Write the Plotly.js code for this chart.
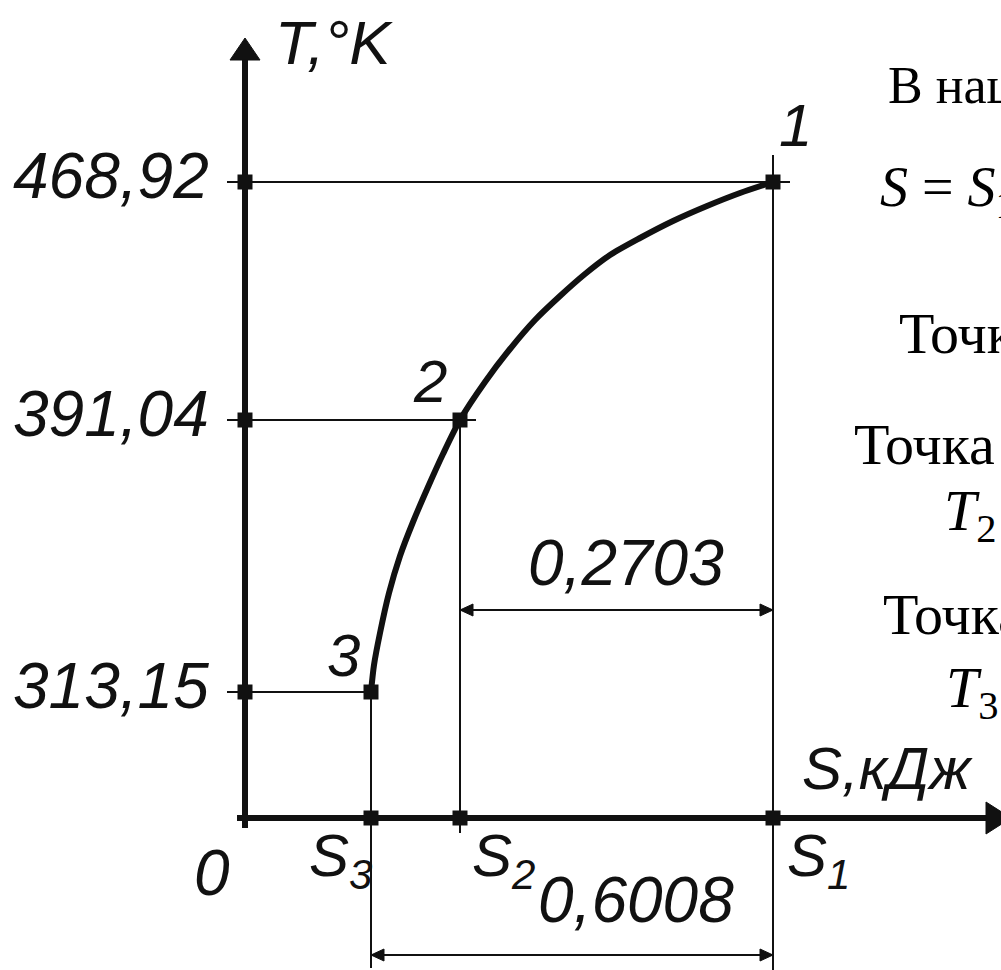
<!DOCTYPE html>
<html>
<head>
<meta charset="utf-8">
<script src="https://cdn.plot.ly/plotly-3.0.1.min.js"></script>
<style>
  html, body { margin: 0; padding: 0; background: #fff; }
  #chart { width: 1001px; height: 970px; }
</style>
</head>
<body>
<div id="chart"></div>
<script>
// process points 1-2-3 (schematic T-S diagram, positions along the drawn axes)
const pointNames = ['1', '2', '3'];
const tempLabels = ['468,92', '391,04', '313,15'];
const entropyLabels = ['S<sub>1</sub>', 'S<sub>2</sub>', 'S<sub>3</sub>'];
const pointS = [528, 215, 126];
const pointT = [636, 398, 126];

// curve 3 -> 2 -> 1
const curveS = [126, 129, 135, 144, 155, 168, 183, 198, 215, 240, 265, 290, 315, 340, 365, 395, 428, 462, 495, 528];
const curveT = [126, 153, 185, 225, 262, 296, 331, 364, 398, 436, 469, 498, 522, 544, 563, 580, 597, 612, 625, 636];

// dimension lines: from S2 and from S3 to S1
const dimLabels = ['0,2703', '0,6008'];
const dimFrom = [1, 2];

// text on the right side of the slide
const sideText = [
  'В нашем случае',
  '<i>S</i> = <i>S</i><sub>1</sub>',
  'Точка 1',
  'Точка 2',
  '<i>T</i><sub>2</sub>',
  'Точка 3',
  '<i>T</i><sub>3</sub>',
];

const SANS = 'Liberation Sans, Arial, sans-serif';
const SERIF = 'Liberation Serif, Times New Roman, serif';
const INK = '#111';

const X_RANGE = [-245, 756];
const Y_RANGE = [-152, 818];
const AXIS_W = 6;
const THIN = 2;

let shapes = [];
function seg(x0, y0, x1, y1, w) {
  shapes.push({ type: 'line', xref: 'x', yref: 'y', x0, y0, x1, y1, line: { color: INK, width: w } });
}
function tri(pts) {
  const d = 'M ' + pts.map(p => p[0] + ',' + p[1]).join(' L ') + ' Z';
  shapes.push({ type: 'path', xref: 'x', yref: 'y', path: d, fillcolor: INK, line: { color: INK, width: 1 } });
}

// axes with arrows
seg(0, -10, 0, 762, AXIS_W);
seg(-8, 0, 745, 0, AXIS_W);
tri([[-15, 758], [15, 758], [0, 780]]);
tri([[741, -16], [741, 16], [766, 0]]);

// projection lines
const hExt = [17, 16, 0];
for (let i = 0; i < 3; i++) {
  seg(-18, pointT[i], pointS[i] + hExt[i], pointT[i], THIN);
}
seg(pointS[0], pointT[0] + 27, pointS[0], Y_RANGE[0], THIN);
seg(pointS[1], pointT[1], pointS[1], -15, THIN);
seg(pointS[2], pointT[2], pointS[2], Y_RANGE[0] + 2, THIN);

// dimension lines
const dimY = [208, -137];
const dimLabelPos = [[381, 255], [391, -82]];
let annotations = [];
for (let k = 0; k < dimLabels.length; k++) {
  const xa = pointS[dimFrom[k]], xb = pointS[0], y = dimY[k];
  seg(xa, y, xb, y, THIN);
  tri([[xa, y], [xa + 13, y + 6], [xa + 13, y - 6]]);
  tri([[xb, y], [xb - 13, y + 6], [xb - 13, y - 6]]);
  annotations.push({
    x: dimLabelPos[k][0], y: dimLabelPos[k][1], text: '<i>' + dimLabels[k] + '</i>',
    showarrow: false, xanchor: 'center', yanchor: 'middle',
    font: { family: SANS, size: 64, color: INK },
  });
}

// axis labels
for (let i = 0; i < 3; i++) {
  annotations.push({
    x: -34, y: pointT[i] + 6, text: '<i>' + tempLabels[i] + '</i>',
    showarrow: false, xanchor: 'right', yanchor: 'middle',
    font: { family: SANS, size: 64, color: INK },
  });
}
const sLabelDx = [12, 10, -64];
for (let i = 0; i < 3; i++) {
  annotations.push({
    x: pointS[i] + sLabelDx[i], y: -42, text: '<i>' + entropyLabels[i] + '</i>',
    showarrow: false, xanchor: 'left', yanchor: 'middle',
    font: { family: SANS, size: 60, color: INK },
  });
}
const nameDx = [22, -30, -28];
const nameDy = [57, 39, 37];
for (let i = 0; i < 3; i++) {
  annotations.push({
    x: pointS[i] + nameDx[i], y: pointT[i] + nameDy[i], text: '<i>' + pointNames[i] + '</i>',
    showarrow: false, xanchor: 'center', yanchor: 'middle',
    font: { family: SANS, size: 60, color: INK },
  });
}
annotations.push(
  { x: 28, y: 776, text: '<i>T,°K</i>', showarrow: false, xanchor: 'left', yanchor: 'middle',
    font: { family: SANS, size: 62, color: INK } },
  { x: -33, y: -55, text: '<i>0</i>', showarrow: false, xanchor: 'center', yanchor: 'middle',
    font: { family: SANS, size: 64, color: INK } },
  { x: 555, y: 50, text: '<i>S,кДж</i>', showarrow: false, xanchor: 'left', yanchor: 'middle',
    font: { family: SANS, size: 60, color: INK } }
);

// right-hand slide text (cut by the page edge)
const sidePos = [[641, 733, 52], [633, 627, 56], [652, 485, 58], [607, 374, 58], [697, 304, 58], [636, 204, 58], [699, 127, 58]];
sideText.forEach((t, i) => {
  annotations.push({
    x: sidePos[i][0], y: sidePos[i][1], text: t, showarrow: false,
    xanchor: 'left', yanchor: 'middle',
    font: { family: SERIF, size: sidePos[i][2], color: '#000' },
  });
});

const data = [
  {
    type: 'scatter', mode: 'lines', x: curveS, y: curveT,
    line: { color: INK, width: 6, shape: 'spline', smoothing: 0.8 },
    hoverinfo: 'skip',
  },
  {
    type: 'scatter', mode: 'markers',
    x: pointS.concat(pointS, [0, 0, 0]),
    y: pointT.concat([0, 0, 0], pointT),
    marker: { symbol: 'square', size: 15, color: INK },
    hoverinfo: 'skip',
  },
];

const layout = {
  width: 1001,
  height: 970,
  margin: { l: 0, r: 0, t: 0, b: 0 },
  paper_bgcolor: '#fff',
  plot_bgcolor: '#fff',
  showlegend: false,
  xaxis: { range: X_RANGE, visible: false, fixedrange: true },
  yaxis: { range: Y_RANGE, visible: false, fixedrange: true },
  shapes: shapes,
  annotations: annotations,
};

Plotly.newPlot('chart', data, layout, { staticPlot: true });
</script>
</body>
</html>
